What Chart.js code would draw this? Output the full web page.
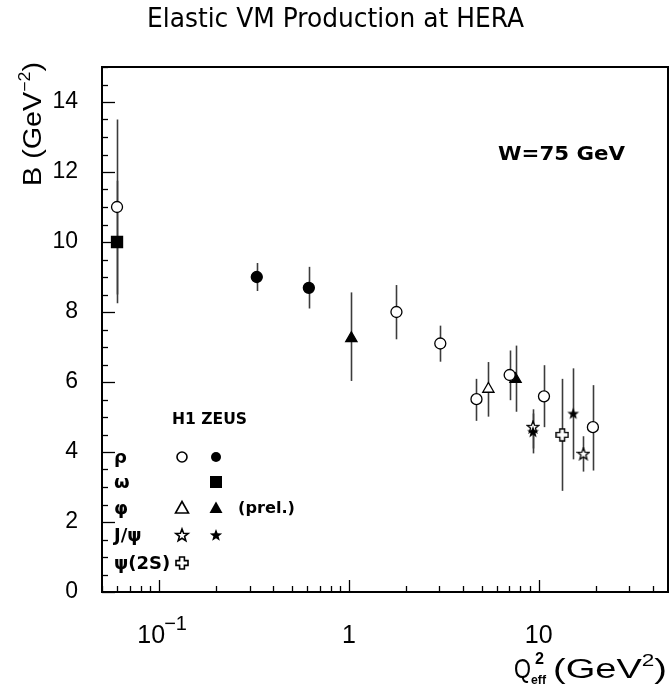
<!DOCTYPE html>
<html>
<head>
<meta charset="utf-8">
<script src="https://cdn.jsdelivr.net/npm/chart.js@4.4.1/dist/chart.umd.min.js"></script>
<style>
html, body { margin: 0; padding: 0; background: #fff; }
#wrap { width: 670px; height: 685px; position: relative; }
</style>
</head>
<body>
<div id="wrap"><canvas id="grafico"></canvas></div>
<script>
// H1 rho (open circles)
const h1RhoQ2 = [0.06, 1.78, 3.03, 4.7, 7.03, 10.66, 19.3];
const h1RhoB  = [11.0, 8.0, 7.1, 5.51, 6.2, 5.59, 4.71];
const h1RhoHi = [13.5, 8.77, 7.61, 6.09, 6.9, 6.48, 5.91];
const h1RhoLo = [8.5, 7.22, 6.58, 4.89, 5.48, 4.71, 3.47];

// ZEUS rho (full circles)
const zeusRhoQ2 = [0.327, 0.615];
const zeusRhoB  = [9.0, 8.69];
const zeusRhoHi = [9.4, 9.29];
const zeusRhoLo = [8.6, 8.1];

// ZEUS omega (full square)
const zeusOmegaQ2 = [0.06];
const zeusOmegaB  = [10.0];
const zeusOmegaHi = [11.75];
const zeusOmegaLo = [8.25];

// H1 phi (open triangle)
const h1PhiQ2 = [5.43];
const h1PhiB  = [5.8];
const h1PhiHi = [6.57];
const h1PhiLo = [5.01];

// ZEUS phi, preliminary (full triangles)
const zeusPhiQ2 = [1.03, 7.55];
const zeusPhiB  = [7.25, 6.08];
const zeusPhiHi = [8.56, 7.04];
const zeusPhiLo = [6.03, 5.15];

// H1 J/psi (open stars)
const h1JpsiQ2 = [9.33, 17.2];
const h1JpsiB  = [4.72, 3.95];
const h1JpsiHi = [5.22, 4.45];
const h1JpsiLo = [4.1, 3.44];

// ZEUS J/psi (full stars)
const zeusJpsiQ2 = [9.33, 15.2];
const zeusJpsiB  = [4.58, 5.1];
const zeusJpsiHi = [5.1, 6.39];
const zeusJpsiLo = [3.96, 3.79];

// H1 psi(2S) (open cross)
const h1Psi2sQ2 = [13.3];
const h1Psi2sB  = [4.49];
const h1Psi2sHi = [6.09];
const h1Psi2sLo = [2.89];

// ejes
const yTicks = [0, 2, 4, 6, 8, 10, 12, 14];
const xTicks = [0.1, 1, 10];
const xTickLabels = ['10', '1', '10'];

function puntos(xs, ys) {
    return xs.map((x, i) => ({ x: x, y: ys[i] }));
}

// marcadores propios (estrella y cruz)
function crearEstrella(relleno) {
    const c = document.createElement('canvas');
    c.width = 14; c.height = 14;
    const g = c.getContext('2d');
    trazarEstrella(g, 7, 7.5, 6.2);
    if (relleno) { g.fillStyle = '#000'; g.fill(); }
    else { g.fillStyle = '#fff'; g.fill(); g.lineWidth = 1.3; g.strokeStyle = '#000'; g.stroke(); }
    return c;
}

function trazarEstrella(g, cx, cy, R) {
    const r = R * 0.42;
    g.beginPath();
    for (let i = 0; i < 10; i++) {
        const a = -Math.PI / 2 + i * Math.PI / 5;
        const rr = i % 2 === 0 ? R : r;
        const px = cx + rr * Math.cos(a), py = cy + rr * Math.sin(a);
        if (i === 0) g.moveTo(px, py); else g.lineTo(px, py);
    }
    g.closePath();
}

function crearCruz() {
    const c = document.createElement('canvas');
    c.width = 14; c.height = 14;
    const g = c.getContext('2d');
    trazarCruz(g, 7, 7, 6, 2.4);
    g.fillStyle = '#fff'; g.fill();
    g.lineWidth = 1.4; g.strokeStyle = '#000'; g.stroke();
    return c;
}

function trazarCruz(g, cx, cy, L, w) {
    g.beginPath();
    g.moveTo(cx - w, cy - L); g.lineTo(cx + w, cy - L); g.lineTo(cx + w, cy - w);
    g.lineTo(cx + L, cy - w); g.lineTo(cx + L, cy + w); g.lineTo(cx + w, cy + w);
    g.lineTo(cx + w, cy + L); g.lineTo(cx - w, cy + L); g.lineTo(cx - w, cy + w);
    g.lineTo(cx - L, cy + w); g.lineTo(cx - L, cy - w); g.lineTo(cx - w, cy - w);
    g.closePath();
}

const estrellaAbierta = crearEstrella(false);
const estrellaLlena = crearEstrella(true);
const cruzAbierta = crearCruz();

function serie(label, xs, ys, hi, lo, estilo, relleno, radio) {
    return {
        label: label,
        data: puntos(xs, ys),
        errHi: hi,
        errLo: lo,
        pointStyle: estilo,
        pointRadius: radio,
        pointBackgroundColor: relleno ? '#000' : '#fff',
        pointBorderColor: '#000',
        pointBorderWidth: 1.3,
        showLine: false
    };
}

// barras de error verticales
const barrasError = {
    id: 'barrasError',
    beforeDatasetsDraw(chart) {
        const ctx = chart.ctx;
        const xs = chart.scales.x, ys = chart.scales.y;
        ctx.save();
        ctx.strokeStyle = '#3c3c3c';
        ctx.lineWidth = 1.6;
        chart.data.datasets.forEach(ds => {
            ds.data.forEach((p, i) => {
                const px = Math.round(xs.getPixelForValue(p.x)) + 0.5;
                ctx.beginPath();
                ctx.moveTo(px, ys.getPixelForValue(ds.errHi[i]));
                ctx.lineTo(px, ys.getPixelForValue(ds.errLo[i]));
                ctx.stroke();
            });
        });
        ctx.restore();
    }
};

// texto con tamaños mezclados, ajustado a un ancho dado
function textoRico(ctx, partes, x, y, anchoObjetivo, familia, peso) {
    let ancho = 0;
    partes.forEach(p => {
        ctx.font = (peso || 'normal') + ' ' + p.size + 'px ' + familia;
        p.w = ctx.measureText(p.t).width;
        ancho += p.w;
    });
    const k = anchoObjetivo ? anchoObjetivo / ancho : 1;
    ctx.save();
    ctx.translate(x, y);
    ctx.scale(k, 1);
    let cx = 0;
    partes.forEach(p => {
        ctx.font = (peso || 'normal') + ' ' + p.size + 'px ' + familia;
        ctx.fillText(p.t, cx, p.dy || 0);
        cx += p.w;
    });
    ctx.restore();
}

function marcador(ctx, tipo, x, y) {
    ctx.save();
    ctx.lineWidth = 1.6;
    ctx.strokeStyle = '#000';
    ctx.fillStyle = '#000';
    if (tipo === 'circA' || tipo === 'circL') {
        ctx.beginPath(); ctx.arc(x, y, 5, 0, Math.PI * 2);
        if (tipo === 'circL') ctx.fill(); else ctx.stroke();
    } else if (tipo === 'cuad') {
        ctx.fillRect(x - 6, y - 6, 12, 12);
    } else if (tipo === 'triA' || tipo === 'triL') {
        ctx.beginPath(); ctx.moveTo(x, y - 6.5); ctx.lineTo(x + 6.5, y + 5); ctx.lineTo(x - 6.5, y + 5); ctx.closePath();
        if (tipo === 'triL') ctx.fill(); else ctx.stroke();
    } else if (tipo === 'estA' || tipo === 'estL') {
        trazarEstrella(ctx, x, y + 0.5, 6.5);
        if (tipo === 'estL') ctx.fill(); else ctx.stroke();
    } else if (tipo === 'cruz') {
        trazarCruz(ctx, x, y, 6, 2.4);
        ctx.stroke();
    }
    ctx.restore();
}

// marco, marcas de los ejes, títulos y leyenda
const decoracion = {
    id: 'decoracion',
    afterDraw(chart) {
        const ctx = chart.ctx;
        const a = chart.chartArea;
        const xs = chart.scales.x, ys = chart.scales.y;
        ctx.save();
        ctx.strokeStyle = '#000';
        ctx.fillStyle = '#000';

        // marcas eje y
        ctx.lineWidth = 1.3;
        for (let v = 0; v <= 15; v += 0.5) {
            const py = Math.round(ys.getPixelForValue(v)) + 0.5;
            const largo = v % 2 === 0 ? 13 : 6;
            ctx.beginPath(); ctx.moveTo(a.left, py); ctx.lineTo(a.left + largo, py); ctx.stroke();
        }
        // marcas eje x (logarítmico)
        for (let d = 0.01; d <= 100; d *= 10) {
            for (let k = 1; k <= 9; k++) {
                const v = d * k;
                if (v < xs.min || v > xs.max) continue;
                const px = Math.round(xs.getPixelForValue(v)) + 0.5;
                const largo = k === 1 ? 12 : 6;
                ctx.beginPath(); ctx.moveTo(px, a.bottom); ctx.lineTo(px, a.bottom - largo); ctx.stroke();
            }
        }

        // marco
        ctx.lineWidth = 2;
        ctx.strokeRect(a.left, a.top, a.right - a.left, a.bottom - a.top);

        // etiquetas eje x
        ctx.textBaseline = 'alphabetic';
        xTicks.forEach((v, i) => {
            const px = xs.getPixelForValue(v);
            const t = xTickLabels[i];
            if (v === 0.1) {
                ctx.textAlign = 'right';
                ctx.font = '25px "Liberation Sans"';
                ctx.fillText(t, px + 6, 643);
                ctx.textAlign = 'left';
                ctx.font = '20px "Liberation Sans"';
                ctx.fillText('\u22121', px + 5, 630);
            } else {
                ctx.textAlign = 'center';
                ctx.font = '25px "Liberation Sans"';
                ctx.fillText(t, px, 643);
            }
        });
        ctx.textAlign = 'left';

        // título
        textoRico(ctx, [{ t: 'Elastic VM Production at HERA', size: 26 }], 147, 27, 377, '"DejaVu Sans"');

        // título eje x
        textoRico(ctx, [{ t: 'Q', size: 28 }], 514, 678, 17, '"Liberation Sans"');
        textoRico(ctx, [{ t: 'eff', size: 13 }], 531, 684, 15, '"Liberation Sans"', 'bold');
        textoRico(ctx, [{ t: '2', size: 16 }], 535, 664, 9, '"Liberation Sans"', 'bold');
        textoRico(ctx, [{ t: '(GeV', size: 27 }, { t: '2', size: 16, dy: -12 }, { t: ')', size: 27 }], 553, 678, 114, '"Liberation Sans"');

        // título eje y (rotado)
        ctx.save();
        ctx.translate(41, 186);
        ctx.rotate(-Math.PI / 2);
        textoRico(ctx, [{ t: 'B (GeV', size: 26 }, { t: '\u22122', size: 16, dy: -11 }, { t: ')', size: 26 }], 0, 0, 124, '"Liberation Sans"');
        ctx.restore();

        // W = 75 GeV
        textoRico(ctx, [{ t: 'W=75 GeV', size: 19 }], 498, 160, 127, '"DejaVu Sans"', 'bold');

        // leyenda
        textoRico(ctx, [{ t: 'H1 ZEUS', size: 16 }], 172, 424, 75, '"DejaVu Sans"', 'bold');
        const filas = [
            { t: '\u03c1', y: 457, h1: 'circA', zeus: 'circL' },
            { t: '\u03c9', y: 482, h1: null, zeus: 'cuad' },
            { t: '\u03c6', y: 508, h1: 'triA', zeus: 'triL' },
            { t: 'J/\u03c8', y: 535, h1: 'estA', zeus: 'estL' },
            { t: '\u03c8(2S)', y: 563, h1: 'cruz', zeus: null }
        ];
        filas.forEach(f => {
            ctx.font = 'bold 18px "DejaVu Sans"';
            ctx.fillText(f.t, 114, f.y + 6);
            if (f.h1) marcador(ctx, f.h1, 182, f.y);
            if (f.zeus) marcador(ctx, f.zeus, 216, f.y);
        });
        textoRico(ctx, [{ t: '(prel.)', size: 15 }], 238, 513, 57, '"DejaVu Sans"', 'bold');

        ctx.restore();
    }
};

new Chart(document.getElementById('grafico').getContext('2d'), {
    type: 'scatter',
    data: {
        datasets: [
            serie('H1 \u03c1', h1RhoQ2, h1RhoB, h1RhoHi, h1RhoLo, 'circle', false, 5.5),
            serie('ZEUS \u03c1', zeusRhoQ2, zeusRhoB, zeusRhoHi, zeusRhoLo, 'circle', true, 5.5),
            serie('ZEUS \u03c9', zeusOmegaQ2, zeusOmegaB, zeusOmegaHi, zeusOmegaLo, 'rect', true, 7.8),
            serie('H1 \u03c6', h1PhiQ2, h1PhiB, h1PhiHi, h1PhiLo, 'triangle', false, 6.5),
            serie('ZEUS \u03c6', zeusPhiQ2, zeusPhiB, zeusPhiHi, zeusPhiLo, 'triangle', true, 6.5),
            serie('ZEUS J/\u03c8', zeusJpsiQ2, zeusJpsiB, zeusJpsiHi, zeusJpsiLo, estrellaLlena, true, 6),
            serie('H1 J/\u03c8', h1JpsiQ2, h1JpsiB, h1JpsiHi, h1JpsiLo, estrellaAbierta, false, 6),
            serie('H1 \u03c8(2S)', h1Psi2sQ2, h1Psi2sB, h1Psi2sHi, h1Psi2sLo, cruzAbierta, false, 6)
        ]
    },
    options: {
        responsive: true,
        maintainAspectRatio: false,
        animation: false,
        devicePixelRatio: 1,
        layout: { autoPadding: false, padding: { top: 67, right: 2, left: 0, bottom: 0 } },
        plugins: { legend: { display: false }, tooltip: { enabled: false } },
        scales: {
            x: {
                type: 'logarithmic',
                min: 0.05,
                max: 48,
                grid: { display: false, drawTicks: false },
                border: { display: false },
                ticks: { display: false },
                afterFit: s => { s.height = 93; }
            },
            y: {
                min: 0,
                max: 15,
                grid: { display: false, drawTicks: false },
                border: { display: false },
                ticks: { color: '#000', padding: 24, font: { family: 'Liberation Sans', size: 23 } },
                afterBuildTicks: s => { s.ticks = yTicks.map(v => ({ value: v })); },
                afterFit: s => { s.width = 102; }
            }
        }
    },
    plugins: [barrasError, decoracion]
});
</script>
</body>
</html>
